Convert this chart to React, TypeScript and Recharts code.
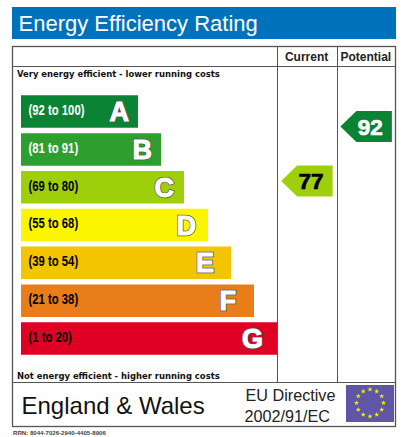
import * as React from "react";
import {
  Bar,
  BarChart,
  Cell,
  LabelList,
  Scatter,
  ScatterChart,
  XAxis,
  YAxis
} from "recharts";

const bandLetters = ["A", "B", "C", "D", "E", "F", "G"];
const bandRanges = ["(92 to 100)", "(81 to 91)", "(69 to 80)", "(55 to 68)", "(39 to 54)", "(21 to 38)", "(1 to 20)"];
const bandLengths = [117, 140, 163, 187, 210, 233, 256];
const bandColors = ["#0a8434", "#2e9f2e", "#9fcf0a", "#fbf500", "#f2c500", "#e87d1a", "#df0024"];
const bandTextColors = ["#fff", "#fff", "#000", "#000", "#000", "#000", "#000"];

const ratingColumns = ["Current", "Potential"];
const ratingScores = [77, 92];
const ratingColors = ["#9fcf0a", "#0a8434"];
const ratingTextColors = ["#000", "#fff"];

const bandData = bandLetters.map((letter, i) => ({
  letter,
  range: bandRanges[i],
  length: bandLengths[i]
}));

const ratingData = ratingColumns.map((column, i) => ({
  column,
  score: ratingScores[i],
  color: ratingColors[i],
  textColor: ratingTextColors[i]
}));

const SANS = "'Liberation Sans', Arial, sans-serif";
const LABEL = "'DejaVu Sans Condensed', 'DejaVu Sans', sans-serif";
const LINE = "#555";

function RangeLabel({ x, y, height, value, index }: any) {
  // no narrow face installed, so squeeze the bold one
  const tx = x + 7.5;
  const ty = y + height / 2 - 0.5;
  return (
    <text
      transform={`translate(${tx} ${ty}) scale(0.77 1)`}
      dominantBaseline="middle"
      fontFamily={SANS}
      fontWeight={700}
      fontSize={14.7}
      fill={bandTextColors[index]}
    >
      {value}
    </text>
  );
}

function LetterLabel({ x, y, width, height, value, index }: any) {
  // the letters do not sit at a constant distance from the bar end
  const inset = [9, 9, 10, 12, 17, 18, 14][index];
  const common = {
    x: x + width - inset,
    y: y + height / 2 + 9.5,
    textAnchor: "end" as const,
    fontFamily: SANS,
    fontWeight: 700,
    fontSize: 27
  };
  return (
    <g>
      <text {...common} fill="#555" stroke="#555" strokeWidth={2.4}>
        {value}
      </text>
      <text {...common} fill="#fff" stroke="#fff" strokeWidth={1}>
        {value}
      </text>
    </g>
  );
}

function RatingArrow({ cx, cy, payload }: any) {
  const left = cx - 26;
  const right = cx + 25.5;
  const top = cy - 15.5;
  const bottom = cy + 15.5;
  const neck = left + 16;
  return (
    <g>
      <path
        d={`M${left} ${cy}L${neck} ${top}L${right} ${top}L${right} ${bottom}L${neck} ${bottom}Z`}
        fill={payload.color}
      />
      <text
        x={cx + 4}
        y={cy + 8}
        textAnchor="middle"
        fontFamily={SANS}
        fontWeight={700}
        fontSize={22.5}
        fill={payload.textColor}
        stroke={payload.textColor}
        strokeWidth={0.7}
      >
        {payload.score}
      </text>
    </g>
  );
}

function ColumnTick({ x, y, payload }: any) {
  return (
    <text
      x={x - 0.5}
      y={y + 6}
      textAnchor="middle"
      fontFamily={SANS}
      fontWeight={700}
      fontSize={12}
      fill="#222"
    >
      {payload.value}
    </text>
  );
}

function EuFlag() {
  const stars = [];
  for (let i = 0; i < 12; i++) {
    const a = (i * Math.PI) / 6;
    const cx = 370 + 13.5 * Math.sin(a);
    const cy = 403 - 13.5 * Math.cos(a);
    let pts = "";
    for (let k = 0; k < 10; k++) {
      const r = k % 2 ? 1.1 : 2.6;
      const b = (k * Math.PI) / 5;
      pts += `${cx + r * Math.sin(b)},${cy - r * Math.cos(b)} `;
    }
    stars.push(<polygon key={i} points={pts} fill="#f5e616" />);
  }
  return (
    <g>
      <rect x={346} y={385} width={48} height={37} fill="#5f57a6" />
      {stars}
    </g>
  );
}

function Frame() {
  return (
    <svg width={413} height={437} style={{ position: "absolute", left: 0, top: 0 }}>
      <rect x={0} y={0} width={413} height={437} fill="#fff" />
      <rect x={12} y={7} width={384} height={32} fill="#0072bc" />
      <text x={18.5} y={30.5} fontFamily={SANS} fontSize={22} fill="#fff">
        Energy Efficiency Rating
      </text>
      <rect x={12.5} y={46.5} width={383} height={380} fill="none" stroke={LINE} strokeWidth={1.3} />
      <line x1={12} x2={396} y1={66.5} y2={66.5} stroke={LINE} strokeWidth={1} />
      <line x1={12} x2={396} y1={382.5} y2={382.5} stroke={LINE} strokeWidth={1} />
      <line x1={277.5} x2={277.5} y1={46} y2={382} stroke={LINE} strokeWidth={1} />
      <line x1={337.5} x2={337.5} y1={46} y2={382} stroke={LINE} strokeWidth={1} />
      <text x={17} y={77} fontFamily={LABEL} fontWeight={700} fontSize={9.4} fill="#111">
        Very energy efficient - lower running costs
      </text>
      <text x={17} y={379} fontFamily={LABEL} fontWeight={700} fontSize={9.4} fill="#111">
        Not energy efficient - higher running costs
      </text>
      <text x={21.5} y={414} fontFamily={SANS} fontSize={24} fill="#111">
        England &amp; Wales
      </text>
      <text x={245.5} y={400.5} fontFamily={SANS} fontSize={16.2} fill="#222">
        EU Directive
      </text>
      <text x={244.5} y={422} fontFamily={SANS} fontSize={16.2} fill="#222">
        2002/91/EC
      </text>
      <EuFlag />
      <text x={13} y={435} fontFamily={SANS} fontWeight={700} fontSize={6.1} fill="#444">
        RRN: 8044-7026-2940-4405-8906
      </text>
    </svg>
  );
}

export default function App() {
  return (
    <div style={{ position: "absolute", left: 0, top: 0, width: 413, height: 437 }}>
      <Frame />
      <div style={{ position: "absolute", left: 0, top: 0 }}>
        <BarChart
          layout="vertical"
          width={413}
          height={437}
          data={bandData}
          margin={{ top: 92.3, right: 136, bottom: 79.9, left: 21 }}
          barSize={32.5}
        >
          <XAxis type="number" hide domain={[0, 256]} />
          <YAxis type="category" dataKey="letter" hide />
          <Bar dataKey="length" isAnimationActive={false}>
            {bandData.map((d, i) => (
              <Cell key={d.letter} fill={bandColors[i]} />
            ))}
            <LabelList dataKey="range" content={RangeLabel} />
            <LabelList dataKey="letter" content={LetterLabel} />
          </Bar>
        </BarChart>
      </div>
      <div style={{ position: "absolute", left: 0, top: 0 }}>
        <ScatterChart
          width={413}
          height={437}
          margin={{ top: 41.2, right: 17, bottom: 121.7, left: 277.5 }}
        >
          <XAxis
            xAxisId="column"
            type="category"
            dataKey="column"
            orientation="top"
            height={20}
            axisLine={false}
            tickLine={false}
            tick={ColumnTick}
            tickMargin={0}
            interval={0}
            allowDuplicatedCategory={false}
          />
          <YAxis yAxisId="score" type="number" dataKey="score" domain={[40, 110]} hide />
          <Scatter
            xAxisId="column"
            yAxisId="score"
            data={ratingData}
            shape={RatingArrow}
            isAnimationActive={false}
          />
        </ScatterChart>
      </div>
    </div>
  );
}
